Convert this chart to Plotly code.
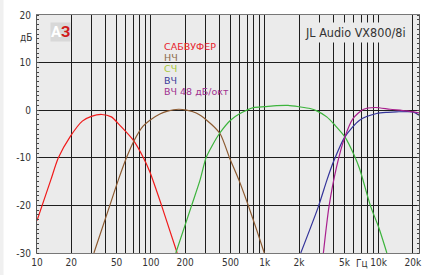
import numpy as np
import plotly.graph_objects as go

# ---- data ----
sub_f = [10, 13.2, 15.4, 19.5, 25, 30, 37, 45, 53.5, 70, 86, 98, 124, 170]
sub_db = [-23.2, -14.7, -10, -5.6, -2.3, -1.3, -0.9, -1.4, -3.2, -6.3, -10, -13, -20, -30]

lf_f = [31.6, 43.6, 51.7, 61, 71.5, 85, 98, 120, 140, 175, 206, 250, 309, 404, 494, 600, 716, 850, 990]
lf_db = [-30, -20, -14.7, -10, -6.3, -3.4, -2.1, -0.8, -0.2, 0.2, 0, -0.6, -2.1, -4.9, -10.2, -15, -20, -25.2, -30]

mf_f = [165.5, 228, 270, 305, 350, 400, 500, 606, 793, 1000, 1270, 1600, 2030, 2500, 2860, 3500, 4150, 5050, 6000, 6800, 8500, 10000, 11800]
mf_db = [-30, -20, -14.7, -10, -7.2, -4.9, -2.1, -0.7, 0.55, 0.75, 0.95, 1.0, 0.7, 0.35, -0.15, -1.4, -3.2, -5.6, -9.1, -12.3, -20.2, -24.6, -30]

hf_f = [2070, 2950, 3500, 4000, 5050, 6800, 9600, 12000, 14300, 20000, 22600]
hf_db = [-30, -20.3, -14.8, -10.9, -5.6, -2.1, -0.7, -0.45, -0.35, -0.35, -1.05]

hf48_f = [3270, 3660, 4270, 5050, 5950, 7300, 9300, 12600, 17600, 22600]
hf48_db = [-30, -20.3, -11.9, -5.6, -1.75, 0.15, 0.57, 0.2, -0.15, -0.57]

series_names = ["САБВУФЕР", "НЧ", "СЧ", "ВЧ", "ВЧ 48 дБ/окт"]
line_colors = ["#f01a1a", "#8c5a30", "#3cb43c", "#34349a", "#a8208e"]
label_colors = ["#e8202a", "#8c6a48", "#a8c83a", "#3a3a9a", "#a03090"]

x_tick_vals = [d * m for m in (10, 100, 1000, 10000) for d in range(1, 10) if d * m <= 20000]
x_label_map = {10: "10", 20: "20", 50: "50", 100: "100", 200: "200", 500: "500",
               1000: "1k", 2000: "2k", 5000: "5k", 10000: "10k", 20000: "20k"}
x_tick_text = [x_label_map.get(v, "") for v in x_tick_vals]
y_tick_vals = [-30, -20, -10, 0, 10, 20]
y_tick_text = ["-30", "-20", "-10", "0", "10", "20"]

title_text = "JL Audio VX800/8i"

# ---- figure ----
fig = go.Figure()
data = [(sub_f, sub_db), (lf_f, lf_db), (mf_f, mf_db), (hf_f, hf_db), (hf48_f, hf48_db)]
for (f, db), name, col in zip(data, series_names, line_colors):
    fig.add_trace(go.Scatter(x=f, y=db, mode="lines", name=name,
                             line=dict(color=col, width=1.2, shape="spline", smoothing=0.7),
                             showlegend=False))
# invisible trace to activate the right-side tick axis
fig.add_trace(go.Scatter(x=[100], y=[0], yaxis="y2", mode="markers",
                         marker=dict(opacity=0), showlegend=False, hoverinfo="skip"))

font_c = "DejaVu Sans Condensed, Roboto, sans-serif"
grid_col = "#1e1e1e"
L, R, T, B = 37, 19, 15, 22
PW = 438 - L - R
PH = 275 - T - B

fig.update_layout(
    width=438, height=275,
    margin=dict(l=L, r=R, t=T, b=B, autoexpand=False),
    paper_bgcolor="white", plot_bgcolor="#ebebeb",
    font=dict(family=font_c, size=10, color="#333"),
    xaxis=dict(type="log", range=[1, np.log10(22600)],
               tickvals=x_tick_vals, ticktext=x_tick_text,
               showgrid=True, gridcolor=grid_col, gridwidth=1,
               showline=True, linecolor="#777", linewidth=1, mirror=True,
               ticks="", tickfont=dict(size=10, color="#333"), zeroline=False),
    yaxis=dict(range=[-30, 20], tickvals=y_tick_vals, ticktext=y_tick_text,
               showgrid=True, gridcolor=grid_col, gridwidth=1,
               showline=True, linecolor="#555", linewidth=1, mirror=True,
               ticks="", ticklabelstandoff=3, tickfont=dict(size=10, color="#333"), zeroline=False,
               minor=dict(dtick=1, ticks="inside", ticklen=2, tickcolor="#444", showgrid=False)),
    yaxis2=dict(range=[-30, 20], overlaying="y", side="right", showgrid=False,
                showticklabels=False, zeroline=False, tickvals=y_tick_vals, ticks="",
                minor=dict(dtick=1, ticks="inside", ticklen=2, tickcolor="#444", showgrid=False)),
)

# left light strip of the page
fig.add_shape(type="rect", xref="paper", yref="paper",
              x0=-L / PW, x1=(-L + 3.5) / PW, y0=-B / PH, y1=(PH + T) / PH,
              fillcolor="#f0f0f0", line=dict(width=0), layer="below")

# background block behind legend text (hides grid lines)
fig.add_shape(type="rect", xref="x", yref="y",
              x0=np.log10(118), x1=np.log10(310), y0=2.4, y1=15.0,
              fillcolor="#ebebeb", line=dict(width=0), layer="between")

# title box
fig.add_annotation(x=np.log10(6200), y=16.4, text=title_text, showarrow=False,
                   font=dict(family="DejaVu Sans Condensed, sans-serif", size=12.5, color="#333"),
                   bgcolor="#ebebeb", xanchor="center", yanchor="middle", borderpad=2)

# legend text block
leg_y = [13.47, 11.07, 8.67, 6.27, 3.87]
for name, col, yy in zip(series_names, label_colors, leg_y):
    fig.add_annotation(x=np.log10(124), y=yy, text=name, showarrow=False,
                       font=dict(family="DejaVu Sans, sans-serif", size=9.5, color=col),
                       xanchor="left", yanchor="middle")

# axis unit labels
fig.add_annotation(xref="paper", x=0, y=15.2, text="дБ", showarrow=False,
                   xanchor="right", xshift=-3, font=dict(size=10, color="#333"))
fig.add_annotation(x=np.log10(7200), yref="paper", y=0, text="Гц", showarrow=False,
                   yanchor="top", yshift=-3, font=dict(size=10, color="#333"))

# logo
fig.add_annotation(x=np.log10(16), y=16.4, showarrow=False,
                   text="<b><span style='color:white'>А</span><span style='color:#d01818'>З</span></b>",
                   font=dict(family="Roboto, sans-serif", size=15), bgcolor="#d8d8d8",
                   xanchor="center", yanchor="middle", borderpad=0)

fig.write_html("out.html", config={"displayModeBar": False},
               post_script="document.body.style.margin='0';")
